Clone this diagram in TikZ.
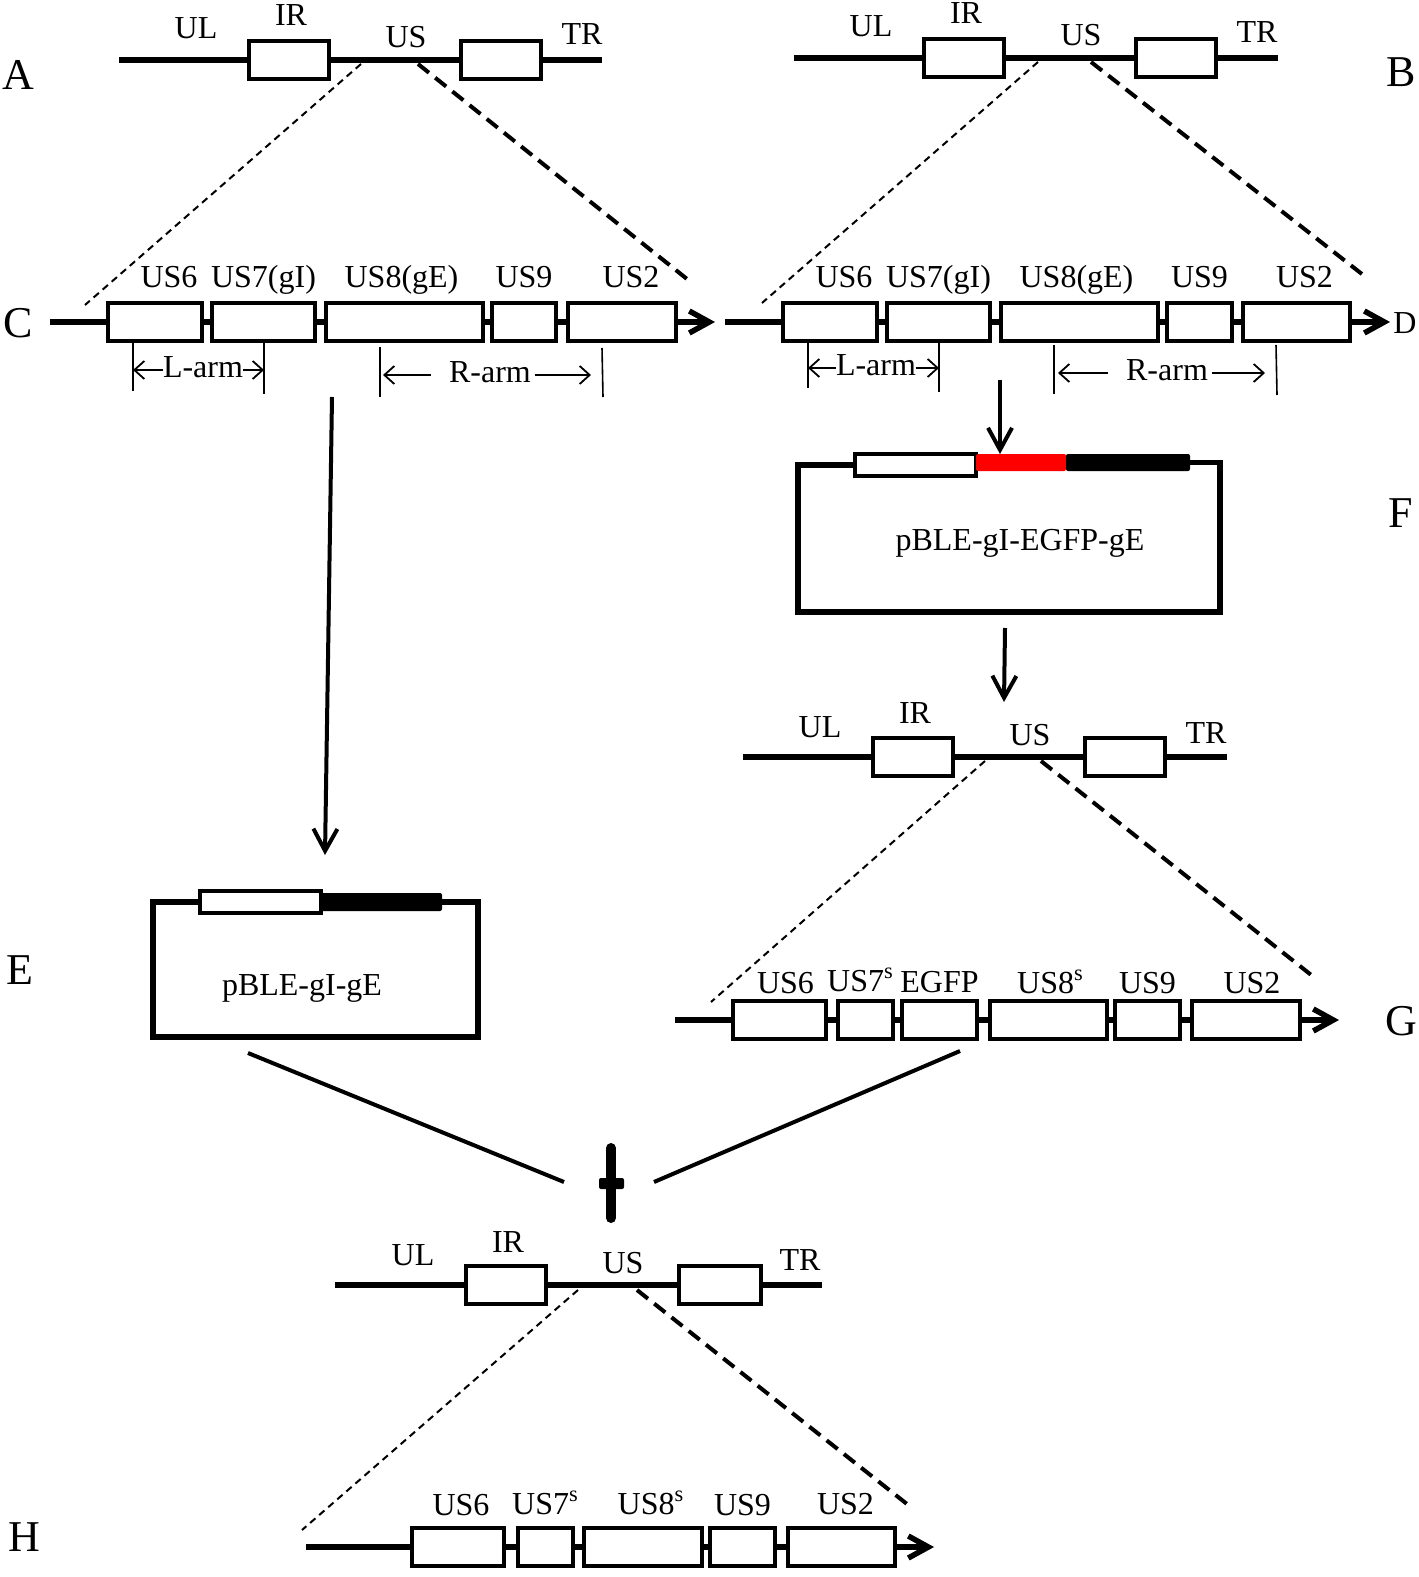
\documentclass[tikz,border=0pt]{standalone}
\usepackage{fontspec}
\setmainfont{Liberation Serif}
\usetikzlibrary{arrows.meta, positioning}

\begin{document}
\begin{tikzpicture}[
            x=0.5pt, y=-0.5pt,
            gene/.style={
                rectangle,
                draw,
                line width=2.25pt,
                inner sep=0pt,
                outer sep=0pt,
                minimum height=19pt
            },
            insert/.style={
                rectangle,
                inner sep=0pt,
                outer sep=0pt,
                rounded corners=1pt,
                minimum height=8.5pt
            },
            lbl/.style={
                inner sep=0pt,
                outer sep=0pt,
                text height=11pt,
                text depth=3.5pt,
                font=\fontsize{16}{19}\selectfont
            },
            panel/.style={
                inner sep=0pt,
                font=\fontsize{22}{26}\selectfont
            },
            genome/.style={line width=2.75pt},
            track/.style={line width=2.75pt},
            trackend/.style={
                line width=2.75pt,
                -{Straight Barb[length=10pt,width=11pt]}
            },
            tick/.style={line width=0.8pt},
            arm/.style={
                line width=0.9pt,
                -{Straight Barb[length=5pt,width=9pt]}
            },
            zoomthin/.style={line width=1pt, dash pattern=on 3.5pt off 2.5pt},
            zoomthick/.style={line width=2pt, dash pattern=on 7pt off 4pt},
            longarrow/.style={
                line width=2pt,
                -{Straight Barb[length=11pt,width=12pt]}
            },
            frame/.style={line width=2.75pt},
            merge/.style={line width=2pt}
        ]
        \useasboundingbox (0,0) rectangle (1418,1577);

        % panel letters
        \node[panel] (pa) at (18,75) {A};
        \node[panel] (pb) at (1401,72) {B};
        \node[panel] (pc) at (18,323) {C};
        \node[panel, anchor=west, font=\fontsize{16}{19}\selectfont] (pd) at (1393,323) {D};
        \node[panel] (pe) at (20,970) {E};
        \node[panel] (pf) at (1401,513) {F};
        \node[panel] (pg) at (1401,1021) {G};
        \node[panel] (ph) at (24,1537) {H};

        % genome A
        \begin{scope}[shift={(119,60)}]
            \coordinate (a-start) at (0,0);
            \coordinate (a-end) at (483,0);
            \node[gene, minimum width=40pt] (a-ir) at (170,0) {};
            \node[gene, minimum width=40pt] (a-tr) at (382,0) {};
            \node[lbl, anchor=base] (a-ul) at (77,-21) {UL};
            \node[lbl, anchor=base] (a-irt) at (172,-34) {IR};
            \node[lbl, anchor=base] (a-us) at (287,-12) {US};
            \node[lbl, anchor=base] (a-trt) at (463,-15) {TR};
            \draw[genome] (a-start) -- (a-ir) (a-ir) -- (a-tr) (a-tr) -- (a-end);
            \coordinate (a-l) at (242,4);
            \coordinate (a-r) at (299,4);
        \end{scope}

        % genome B
        \begin{scope}[shift={(794,58)}]
            \coordinate (b-start) at (0,0);
            \coordinate (b-end) at (484,0);
            \node[gene, minimum width=40pt] (b-ir) at (170,0) {};
            \node[gene, minimum width=40pt] (b-tr) at (382,0) {};
            \node[lbl, anchor=base] (b-ul) at (77,-21) {UL};
            \node[lbl, anchor=base] (b-irt) at (172,-34) {IR};
            \node[lbl, anchor=base] (b-us) at (287,-12) {US};
            \node[lbl, anchor=base] (b-trt) at (463,-15) {TR};
            \draw[genome] (b-start) -- (b-ir) (b-ir) -- (b-tr) (b-tr) -- (b-end);
            \coordinate (b-l) at (244,4);
            \coordinate (b-r) at (297,4);
        \end{scope}

        % track C
        \begin{scope}[shift={(50,322)}]
            \coordinate (c-start) at (0,0);
            \node[gene, minimum width=47pt, anchor=west] (c6) at (58,0) {};
            \node[gene, minimum width=51.5pt, right=5pt of c6] (c7) {};
            \node[gene, minimum width=78.5pt, right=5.5pt of c7] (c8) {};
            \node[gene, minimum width=32pt, right=4.5pt of c8] (c9) {};
            \node[gene, minimum width=54pt, right=6pt of c9] (c2) {};
            \coordinate (c-tip) at (665,0);
            \draw[track] (c-start) -- (c6) (c6) -- (c7) (c7) -- (c8) (c8) -- (c9) (c9) -- (c2);
            \draw[trackend] (c2) -- (c-tip);
            \node[lbl, above=4pt of c6, xshift=7pt] (c6t) {US6};
            \node[lbl, above=4pt of c7] (c7t) {US7(gI)};
            \node[lbl, above=4pt of c8, xshift=-1.5pt] (c8t) {US8(gE)};
            \node[lbl, above=4pt of c9] (c9t) {US9};
            \node[lbl, above=4pt of c2, xshift=4.5pt] (c2t) {US2};
            % arms
            \draw[tick] (83,20) -- (83,69);
            \draw[tick] (214,20) -- (214,72);
            \draw[tick] (330,25) -- (330,75);
            \draw[tick] (552,26) -- (553,75);
            \node[lbl] (c-larm) at (153,48) {L-arm};
            \node[lbl] (c-rarm) at (440,53) {R-arm};
            \coordinate (c-la1) at (83,48);
            \coordinate (c-la2) at (214,48);
            \coordinate (c-ra1) at (333,53);
            \coordinate (c-ra2) at (541,53);
            \draw[arm] (c-larm) -- (c-la1);
            \draw[arm] (c-larm) -- (c-la2);
            \draw[arm, shorten <=9pt] (c-rarm) -- (c-ra1);
            \draw[arm, shorten <=2pt] (c-rarm) -- (c-ra2);
            \coordinate (c-l) at (35,-17);
            \coordinate (c-r) at (642,-39);
        \end{scope}

        % track D
        \begin{scope}[shift={(725,322)}]
            \coordinate (d-start) at (0,0);
            \node[gene, minimum width=47pt, anchor=west] (d6) at (58,0) {};
            \node[gene, minimum width=51.5pt, right=5pt of d6] (d7) {};
            \node[gene, minimum width=78.5pt, right=5.5pt of d7] (d8) {};
            \node[gene, minimum width=32.5pt, right=4.5pt of d8] (d9) {};
            \node[gene, minimum width=53.5pt, right=5.5pt of d9] (d2) {};
            \coordinate (d-tip) at (665,0);
            \draw[track] (d-start) -- (d6) (d6) -- (d7) (d7) -- (d8) (d8) -- (d9) (d9) -- (d2);
            \draw[trackend] (d2) -- (d-tip);
            \node[lbl, above=4pt of d6, xshift=7pt] (d6t) {US6};
            \node[lbl, above=4pt of d7] (d7t) {US7(gI)};
            \node[lbl, above=4pt of d8, xshift=-1.5pt] (d8t) {US8(gE)};
            \node[lbl, above=4pt of d9] (d9t) {US9};
            \node[lbl, above=4pt of d2, xshift=4pt] (d2t) {US2};
            % arms
            \draw[tick] (83,18) -- (83,66);
            \draw[tick] (214,18) -- (214,70);
            \draw[tick] (329,23) -- (329,72);
            \draw[tick] (551,23) -- (552,73);
            \node[lbl] (d-larm) at (151,46) {L-arm};
            \node[lbl] (d-rarm) at (442,51) {R-arm};
            \coordinate (d-la1) at (83,46);
            \coordinate (d-la2) at (214,46);
            \coordinate (d-ra1) at (333,51);
            \coordinate (d-ra2) at (540,51);
            \draw[arm] (d-larm) -- (d-la1);
            \draw[arm] (d-larm) -- (d-la2);
            \draw[arm, shorten <=9pt] (d-rarm) -- (d-ra1);
            \draw[arm, shorten <=2pt] (d-rarm) -- (d-ra2);
            \coordinate (d-l) at (37,-19);
            \coordinate (d-r) at (642,-44);
        \end{scope}

        % plasmid F
        \node[gene, minimum width=60.5pt, minimum height=11pt] (f-white) at (915.5,465) {};
        \node[insert, fill=red, minimum width=45pt, anchor=north west] (f-red) at (f-white.north east) {};
        \node[insert, fill=black, minimum width=62pt, right=0pt of f-red] (f-black) {};
        \coordinate (f-sw) at (798,612);
        \coordinate (f-se) at (1220,612);
        \draw[frame] (f-white) -| (f-sw) -- (f-se) |- (f-black);
        \node[lbl] (f-name) at (1020,543) {pBLE-gI-EGFP-gE};

        % genome G
        \begin{scope}[shift={(743,757)}]
            \coordinate (g-start) at (0,0);
            \coordinate (g-end) at (484,0);
            \node[gene, minimum width=40pt] (g-ir) at (170,0) {};
            \node[gene, minimum width=40pt] (g-tr) at (382,0) {};
            \node[lbl, anchor=base] (g-ul) at (77,-20) {UL};
            \node[lbl, anchor=base] (g-irt) at (172,-34) {IR};
            \node[lbl, anchor=base] (g-us) at (287,-12) {US};
            \node[lbl, anchor=base] (g-trt) at (463,-14) {TR};
            \draw[genome] (g-start) -- (g-ir) (g-ir) -- (g-tr) (g-tr) -- (g-end);
            \coordinate (g-l) at (242,4);
            \coordinate (g-r) at (298,4);
        \end{scope}

        % track G
        \begin{scope}[shift={(675,1020)}]
            \coordinate (gt-start) at (0,0);
            \node[gene, minimum width=46.5pt, anchor=west] (g6) at (58,0) {};
            \node[gene, minimum width=27.5pt, right=6pt of g6] (g7) {};
            \node[gene, minimum width=37.5pt, right=4.5pt of g7] (gfp) {};
            \node[gene, minimum width=58.5pt, right=6.5pt of gfp] (g8) {};
            \node[gene, minimum width=32.5pt, right=4pt of g8] (g9) {};
            \node[gene, minimum width=54pt, right=6pt of g9] (g2) {};
            \coordinate (gt-tip) at (664,0);
            \draw[track] (gt-start) -- (g6) (g6) -- (g7) (g7) -- (gfp) (gfp) -- (g8) (g8) -- (g9) (g9) -- (g2);
            \draw[trackend] (g2) -- (gt-tip);
            \node[lbl, above=0.5pt of g6, xshift=3pt] (g6t) {US6};
            \node[lbl, above=1.5pt of g7, xshift=-2.5pt] (g7t) {US7\textsuperscript{s}};
            \node[lbl, above=1pt of gfp] (gfpt) {EGFP};
            \node[lbl, above=0.5pt of g8, xshift=1pt] (g8t) {US8\textsuperscript{s}};
            \node[lbl, above=0.5pt of g9] (g9t) {US9};
            \node[lbl, above=0.5pt of g2, xshift=3pt] (g2t) {US2};
            \coordinate (gt-l) at (36,-18);
            \coordinate (gt-r) at (640,-42);
        \end{scope}

        % plasmid E
        \node[gene, minimum width=60.5pt, minimum height=11pt] (e-white) at (260.5,902) {};
        \node[insert, fill=black, minimum width=60.5pt, minimum height=9pt, right=0pt of e-white] (e-black) {};
        \coordinate (e-sw) at (153,1037);
        \coordinate (e-se) at (478,1037);
        \draw[frame] (e-white) -| (e-sw) -- (e-se) |- (e-black);
        \node[lbl] (e-name) at (302,988) {pBLE-gI-gE};

        % genome H
        \begin{scope}[shift={(335,1285)}]
            \coordinate (h-start) at (0,0);
            \coordinate (h-end) at (487,0);
            \node[gene, minimum width=40pt] (h-ir) at (171,0) {};
            \node[gene, minimum width=41pt] (h-tr) at (385,0) {};
            \node[lbl, anchor=base] (h-ul) at (78,-20) {UL};
            \node[lbl, anchor=base] (h-irt) at (173,-33) {IR};
            \node[lbl, anchor=base] (h-us) at (288,-12) {US};
            \node[lbl, anchor=base] (h-trt) at (465,-15) {TR};
            \draw[genome] (h-start) -- (h-ir) (h-ir) -- (h-tr) (h-tr) -- (h-end);
            \coordinate (h-l) at (243,5);
            \coordinate (h-r) at (302,5);
        \end{scope}

        % track H
        \begin{scope}[shift={(306,1547)}]
            \coordinate (ht-start) at (0,0);
            \node[gene, minimum width=46pt, anchor=west] (h6) at (106,0) {};
            \node[gene, minimum width=27.5pt, right=7pt of h6] (h7) {};
            \node[gene, minimum width=59pt, right=5.5pt of h7] (h8) {};
            \node[gene, minimum width=32.5pt, right=4pt of h8] (h9) {};
            \node[gene, minimum width=53.5pt, right=6.5pt of h9] (h2) {};
            \coordinate (ht-tip) at (628,0);
            \draw[track] (ht-start) -- (h6) (h6) -- (h7) (h7) -- (h8) (h8) -- (h9) (h9) -- (h2);
            \draw[trackend] (h2) -- (ht-tip);
            \node[lbl, above=3pt of h6, xshift=1.5pt] (h6t) {US6};
            \node[lbl, above=3.5pt of h7] (h7t) {US7\textsuperscript{s}};
            \node[lbl, above=3.5pt of h8, xshift=4pt] (h8t) {US8\textsuperscript{s}};
            \node[lbl, above=3pt of h9] (h9t) {US9};
            \node[lbl, above=3.5pt of h2, xshift=2pt] (h2t) {US2};
            \coordinate (ht-l) at (-4,-17);
            \coordinate (ht-r) at (606,-39);
        \end{scope}

        % zoom lines
        \draw[zoomthin] (a-l) -- (c-l);
        \draw[zoomthick] (a-r) -- (c-r);
        \draw[zoomthin] (b-l) -- (d-l);
        \draw[zoomthick] (b-r) -- (d-r);
        \draw[zoomthin] (g-l) -- (gt-l);
        \draw[zoomthick] (g-r) -- (gt-r);
        \draw[zoomthin] (h-l) -- (ht-l);
        \draw[zoomthick] (h-r) -- (ht-r);

        % arrows between steps
        \coordinate (c-down) at (332,397);
        \coordinate (e-in) at (325,855);
        \draw[longarrow] (c-down) -- (e-in);
        \coordinate (d-down) at (1000,380);
        \draw[longarrow] (d-down) -- (d-down |- f-red.north);
        \coordinate (f-down) at (1005,628);
        \coordinate (g-in) at (1004,702);
        \draw[longarrow] (f-down) -- (g-in);

        % recombination
        \coordinate (e-out) at (248,1053);
        \coordinate (g-out) at (960,1051);
        \coordinate (join-l) at (564,1182);
        \coordinate (join-r) at (654,1182);
        \draw[merge] (e-out) -- (join-l);
        \draw[merge] (g-out) -- (join-r);
        \draw[line width=5pt, line cap=round] (611,1148) -- (611,1218);
        \fill[rounded corners=1pt] (599,1178) rectangle (624,1189);

        \end{tikzpicture}
\end{document}
